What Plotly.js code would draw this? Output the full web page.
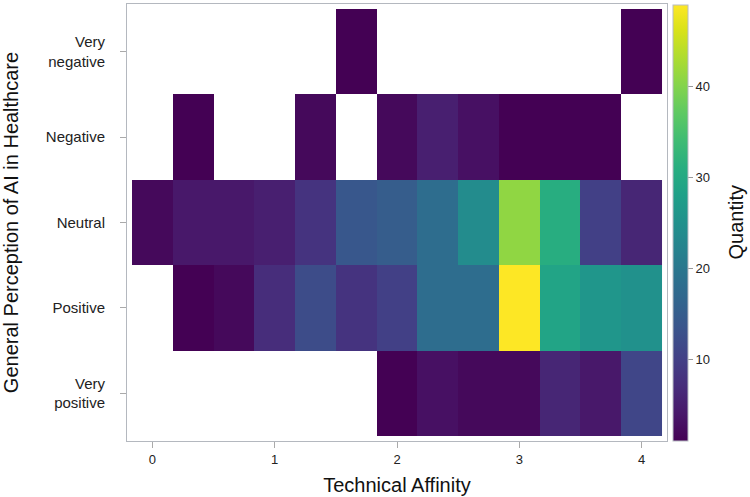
<!DOCTYPE html>
<html>
<head>
<meta charset="utf-8">
<script src="https://cdn.plot.ly/plotly-3.0.1.min.js"></script>
<style>html,body{margin:0;padding:0;background:#fff;}#chart{width:750px;height:497px;}</style>
</head>
<body>
<div id="chart"></div>
<script>
// Technical affinity bins (x), perception categories (y)
const affinity = [0, 1/3, 2/3, 1, 4/3, 5/3, 2, 7/3, 8/3, 3, 10/3, 11/3, 4];
const perception = ['Very negative', 'Negative', 'Neutral', 'Positive', 'Very positive'];
const perceptionLabels = ['Very<br>negative', 'Negative', 'Neutral', 'Positive', 'Very<br>positive'];

// Counts per category (null = no respondents)
const veryNegative = [null, null, null, null, null, 1, null, null, null, null, null, null, 1];
const negative     = [null, 1, null, null, 2, null, 2, 5, 3, 1, 1, 1, null];
const neutral      = [2, 4, 4, 5, 8, 14, 15, 18, 24, 41, 31, 10, 6];
const positive     = [null, 1, 2, 7, 12, 8, 10, 18, 18, 49, 29, 26, 25];
const veryPositive = [null, null, null, null, null, null, 1, 3, 2, 2, 6, 4, 11];

const z = [veryNegative, negative, neutral, positive, veryPositive];

const FONT = 'Liberation Sans, Arial, sans-serif';

const trace = {
  type: 'heatmap',
  x: affinity,
  y: perception,
  z: z,
  colorscale: 'Viridis',
  zmin: 1,
  zmax: 49,
  hoverongaps: false,
  colorbar: {
    title: {text: ''},
    thickness: 15,
    len: 436,
    lenmode: 'pixels',
    x: 1.011,
    xanchor: 'left',
    xpad: 0,
    y: 0.9977,
    yanchor: 'top',
    ypad: 0,
    outlinewidth: 1,
    outlinecolor: '#b8bcc4',
    ticks: 'outside',
    ticklen: 5,
    tickcolor: '#999',
    tickvals: [10, 20, 30, 40],
    tickfont: {family: FONT, size: 13, color: '#222'}
  }
};

const layout = {
  width: 750,
  height: 497,
  margin: {l: 127, r: 83, t: 4, b: 56},
  paper_bgcolor: '#fff',
  plot_bgcolor: '#fff',
  showlegend: false,
  xaxis: {
    range: [-0.2076, 4.2076],
    tickvals: [0, 1, 2, 3, 4],
    ticks: 'outside',
    ticklen: 6,
    tickcolor: '#aaa',
    showgrid: false,
    zeroline: false,
    showline: true,
    mirror: true,
    linecolor: '#b4b8bf',
    linewidth: 1,
    tickfont: {family: FONT, size: 13, color: '#222'},
    title: {text: 'Technical Affinity', font: {family: FONT, size: 20, color: '#111'}, standoff: 12}
  },
  yaxis: {
    type: 'category',
    categoryorder: 'array',
    categoryarray: perception,
    range: [4.5585, -0.5585],
    tickmode: 'array',
    tickvals: perception,
    ticktext: perceptionLabels,
    ticks: 'outside',
    ticklen: 6,
    tickcolor: '#aaa',
    ticklabelstandoff: 12,
    showgrid: false,
    zeroline: false,
    showline: true,
    mirror: true,
    linecolor: '#b4b8bf',
    linewidth: 1,
    tickfont: {family: FONT, size: 15, color: '#222'},
    title: {text: 'General Perception of AI in Healthcare', font: {family: FONT, size: 20, color: '#111'}, standoff: 21}
  },
  annotations: [{
    text: 'Quantity',
    xref: 'paper', yref: 'paper',
    x: 1.126, y: 0.5,
    xanchor: 'center', yanchor: 'middle',
    textangle: -90,
    showarrow: false,
    font: {family: FONT, size: 20, color: '#111'}
  }]
};

Plotly.newPlot('chart', [trace], layout, {displayModeBar: false, staticPlot: true});
</script>
</body>
</html>
